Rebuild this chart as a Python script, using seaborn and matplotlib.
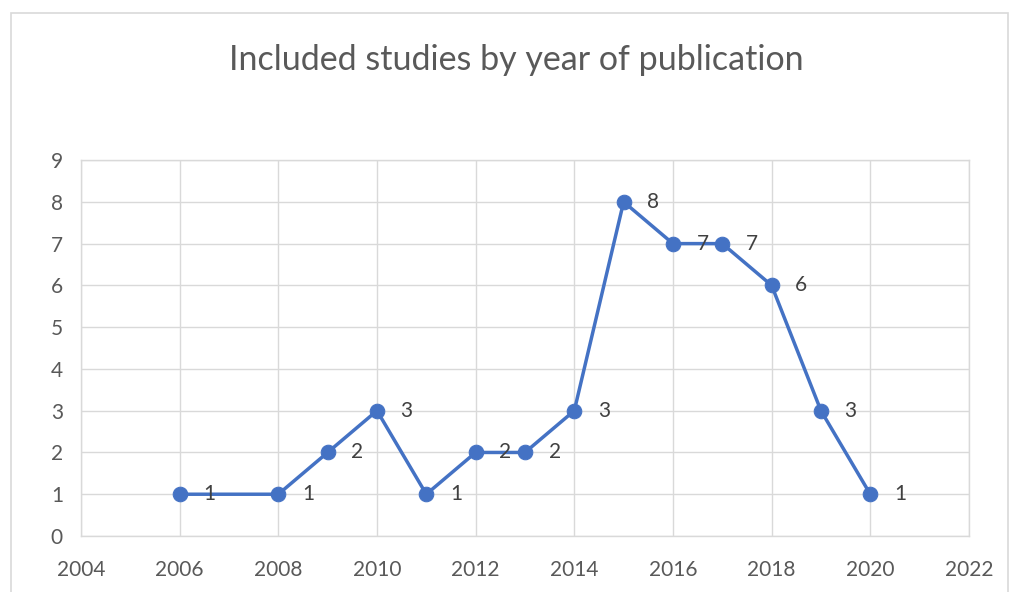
import pandas as pd
import matplotlib.pyplot as plt
import seaborn as sns
from matplotlib.patches import Rectangle

# Included studies per publication year
years = [2006, 2008, 2009, 2010, 2011, 2012, 2013, 2014, 2015, 2016, 2017, 2018, 2019, 2020]
studies = [1, 1, 2, 3, 1, 2, 2, 3, 8, 7, 7, 6, 3, 1]
x_ticks = [2004, 2006, 2008, 2010, 2012, 2014, 2016, 2018, 2020, 2022]
y_ticks = list(range(0, 10))

df = pd.DataFrame({'Year': years, 'Studies': studies})

sns.set_style('white')
plt.rcParams['font.family'] = ['Lato', 'DejaVu Sans']

fig = plt.figure(figsize=(10.11, 5.92), dpi=100)
ax = fig.add_axes([0.0801, 0.0946, 0.8783, 0.635])

grid_col = '#D9D9D9'
line_col = '#4472C4'

sns.lineplot(data=df, x='Year', y='Studies', ax=ax, color=line_col, linewidth=2.5,
             marker='o', markersize=10.5, markeredgecolor=line_col, zorder=3)

for x, y in zip(df['Year'], df['Studies']):
    ax.annotate(str(y), (x, y), xytext=(17, 0), textcoords='offset points',
                ha='left', va='center', fontsize=15, color='#404040', zorder=4)

ax.set_xlim(2004, 2022)
ax.set_ylim(0, 9)
ax.set_xticks(x_ticks)
ax.set_yticks(y_ticks)
ax.grid(True, color=grid_col, linewidth=1)
ax.set_axisbelow(True)
for s in ax.spines.values():
    s.set_color(grid_col)
    s.set_linewidth(1)
ax.tick_params(axis='both', length=0, labelsize=15, labelcolor='#595959')
ax.tick_params(axis='x', pad=17)
ax.tick_params(axis='y', pad=13)
ax.set_xlabel('')
ax.set_ylabel('')

fig.text(0.511, 0.898, 'Included studies by year of publication', ha='center', va='center',
         fontsize=24.5, color='#595959')

fig.patches.append(Rectangle((11 / 1011, -0.02), 997 / 1011, 0.998, transform=fig.transFigure,
                             fill=False, edgecolor='#D9D9D9', linewidth=1.2))

fig.savefig('out.png', dpi=100, facecolor='white')
